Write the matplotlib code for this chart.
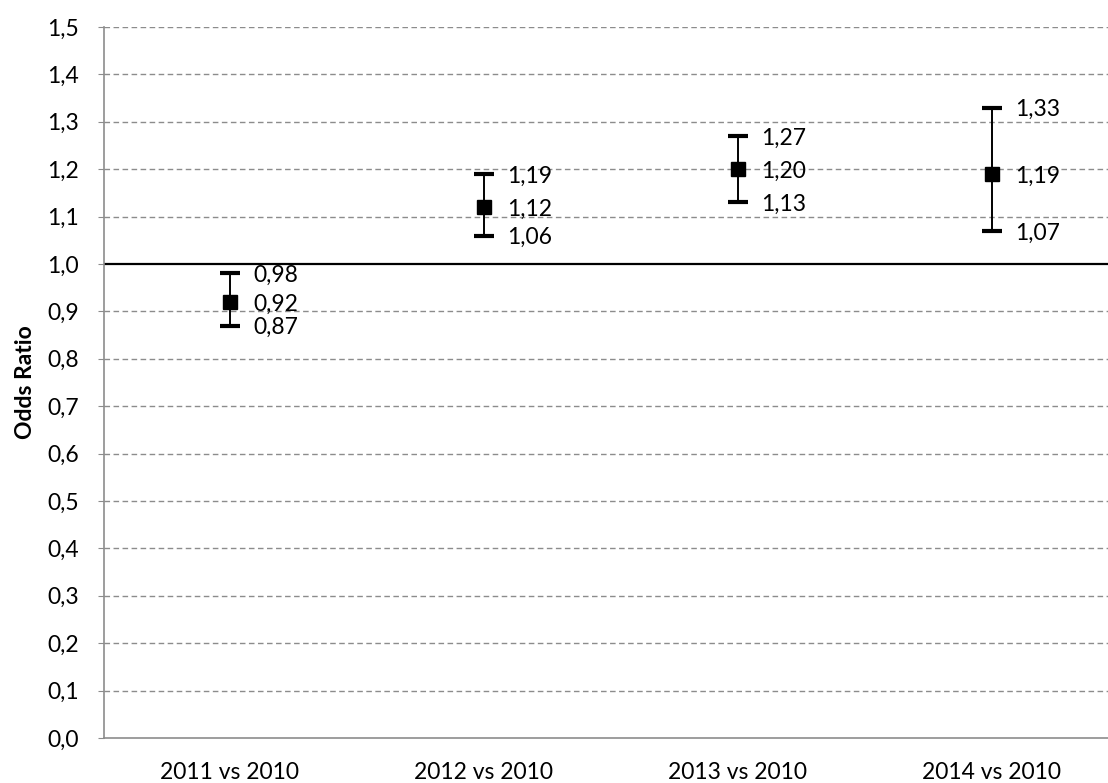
import matplotlib
matplotlib.use("Agg")
import matplotlib.pyplot as plt
import numpy as np

categories = ["2011 vs 2010", "2012 vs 2010", "2013 vs 2010", "2014 vs 2010"]
odds = [0.92, 1.12, 1.20, 1.19]
lower = [0.87, 1.06, 1.13, 1.07]
upper = [0.98, 1.19, 1.27, 1.33]
yticks = [i / 10 for i in range(16)]

plt.rcParams['font.family'] = ['Lato', 'DejaVu Sans']

fig = plt.figure(figsize=(11.08, 7.83), dpi=100)
ax = fig.add_axes([104 / 1108, 1 - 738 / 783, 1 - 104 / 1108, (738 - 27) / 783])

x = np.arange(len(categories))
odds_a = np.array(odds)
err = [odds_a - np.array(lower), np.array(upper) - odds_a]

for yt in yticks[1:]:
    if abs(yt - 1.0) < 1e-9:
        continue
    ax.axhline(yt, color="#8c8c8c", lw=1.0, ls=(0, (4, 2.5)), zorder=1)
ax.axhline(1.0, color="black", lw=1.6, zorder=2)

ax.errorbar(x, odds, yerr=err, fmt="s", color="black", ecolor="black",
            elinewidth=1.4, capsize=7, capthick=3, markersize=10.5, zorder=3)

def fmt(v):
    return f"{v:.2f}".replace(".", ",")

for xi, o, lo, hi in zip(x, odds, lower, upper):
    for v in (o, lo, hi):
        ax.annotate(fmt(v), (xi, v), xytext=(16.5, -1.5), textcoords="offset points",
                    va="center", ha="left", fontsize=16.5, color="black")

ax.set_ylim(0, 1.5)
ax.set_xlim(-126 / 254, (1108 - 230) / 254)
ax.set_yticks(yticks)
ax.set_yticklabels([f"{t:.1f}".replace(".", ",") for t in yticks], fontsize=16.5)
ax.set_xticks(x)
ax.set_xticklabels(categories, fontsize=16.5)
ax.tick_params(axis="x", length=0, pad=17)
ax.tick_params(axis="y", length=4, color="#8c8c8c", pad=14)
for s in ("top", "right"):
    ax.spines[s].set_visible(False)
for s in ("left", "bottom"):
    ax.spines[s].set_color("#8c8c8c")
    ax.spines[s].set_linewidth(1.2)
ax.set_ylabel("Odds Ratio", fontsize=16.5, fontweight="bold", labelpad=8)

fig.savefig("out.png", dpi=100)
